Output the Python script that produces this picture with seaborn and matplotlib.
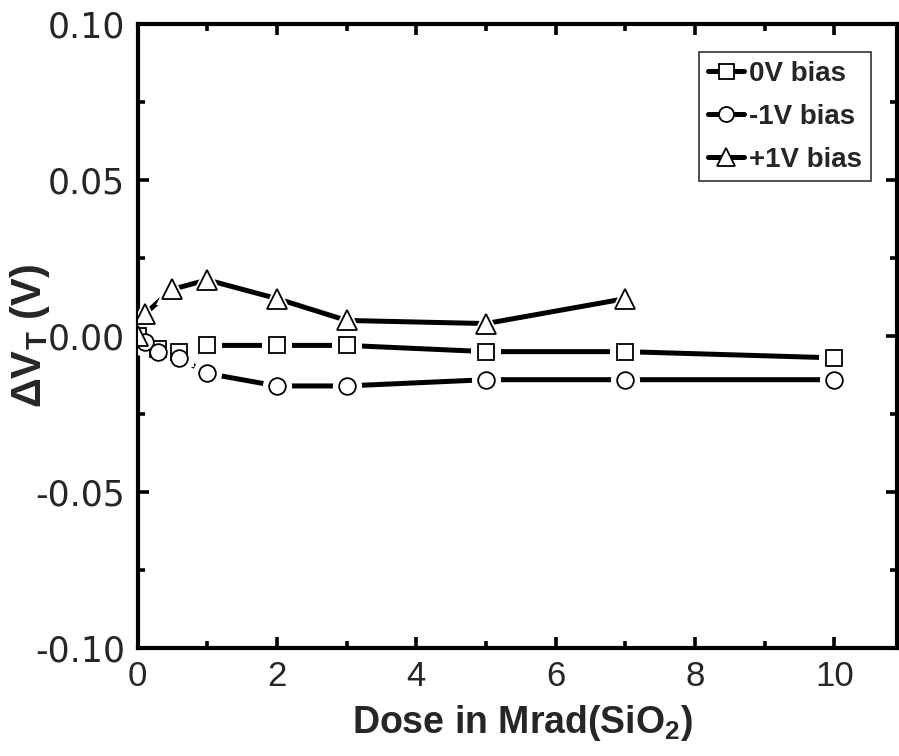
import matplotlib
matplotlib.use("Agg")
import matplotlib.pyplot as plt
from matplotlib.ticker import MultipleLocator, FormatStrFormatter
import seaborn as sns
import pandas as pd

# Threshold-voltage shift vs. total ionizing dose for three gate bias conditions
dose_0v = [0, 0.3, 0.6, 1, 2, 3, 5, 7, 10]
dvt_0v = [0.000, -0.004, -0.005, -0.003, -0.003, -0.003, -0.005, -0.005, -0.007]

dose_m1v = [0.1, 0.3, 0.6, 1, 2, 3, 5, 7, 10]
dvt_m1v = [-0.002, -0.005, -0.007, -0.012, -0.016, -0.016, -0.014, -0.014, -0.014]

dose_p1v = [0, 0.1, 0.5, 1, 2, 3, 5, 7]
dvt_p1v = [0.000, 0.007, 0.015, 0.018, 0.012, 0.005, 0.004, 0.012]

labels = ["0V bias", "-1V bias", "+1V bias"]
x_ticks = [0, 2, 4, 6, 8, 10]
y_ticks = [-0.10, -0.05, 0.00, 0.05, 0.10]

sns.set_theme(style="white")
plt.rcParams["font.family"] = ["Liberation Sans", "DejaVu Sans"]
plt.rcParams["axes.unicode_minus"] = False
plt.rcParams["mathtext.fontset"] = "custom"
plt.rcParams["mathtext.rm"] = "Liberation Sans"
plt.rcParams["mathtext.bf"] = "Liberation Sans:bold"

fig = plt.figure(figsize=(8.99, 7.56), dpi=100)
ax = fig.add_axes([0.153, 0.143, 0.845, 0.825])

series = [
    (dose_0v, dvt_0v, "s", 12.0),
    (dose_m1v, dvt_m1v, "o", 12.0),
    (dose_p1v, dvt_p1v, "^", 14.5),
]

handles = []
for (xs, ys, mk, ms), lab in zip(series, labels):
    df = pd.DataFrame({"dose": xs, "dvt": ys})
    sns.lineplot(data=df, x="dose", y="dvt", ax=ax, color="black",
                 linewidth=3.6, sort=False, zorder=2, legend=False)
    # white halo so the connecting line stops short of each symbol
    ax.plot(df["dose"], df["dvt"], linestyle="none", marker=mk,
            markersize=ms + 9, markerfacecolor="white",
            markeredgecolor="white", markeredgewidth=0, zorder=3)
    ax.plot(df["dose"], df["dvt"], linestyle="none", marker=mk,
            markersize=ms, markerfacecolor="white",
            markeredgecolor="black", markeredgewidth=1.3, zorder=4)
    h, = ax.plot([], [], color="black", linewidth=3.6, marker=mk,
                 markersize=ms * 0.9, markerfacecolor="white",
                 markeredgecolor="black", markeredgewidth=1.3, label=lab)
    handles.append(h)

ax.set_xlim(0, 10.9)
ax.set_ylim(-0.10, 0.10)
ax.set_xticks(x_ticks)
ax.set_yticks(y_ticks)
ax.xaxis.set_minor_locator(MultipleLocator(1))
ax.yaxis.set_minor_locator(MultipleLocator(0.025))
ax.yaxis.set_major_formatter(FormatStrFormatter("%.2f"))

for sp in ax.spines.values():
    sp.set_visible(True)
    sp.set_color("black")
    sp.set_linewidth(3.0)

ax.tick_params(which="both", direction="in", top=True, right=True,
               bottom=True, left=True, color="black")
ax.tick_params(which="major", length=8, width=2.6)
ax.tick_params(which="minor", length=5, width=2.6)
ax.tick_params(axis="x", which="major", labelsize=25, pad=9)
ax.tick_params(axis="y", which="major", labelsize=25, pad=9)
for t in ax.get_yticklabels():
    t.set_fontfamily(["DejaVu Sans"])

ax.set_xlabel(r"Dose in Mrad(SiO$_\mathbf{2}$)", fontsize=27,
              fontweight="bold")
ax.xaxis.set_label_coords(0.507, -0.088)
ax.set_ylabel(r"$\mathbf{\Delta V_T}$ (V)", fontsize=30,
              fontweight="bold")
ax.yaxis.set_label_coords(-0.112, 0.5)

leg = ax.legend(handles=handles, loc="upper right",
                bbox_to_anchor=(0.965, 0.955), frameon=True, fancybox=False,
                prop={"weight": "bold", "size": 20}, handlelength=1.3,
                handletextpad=0.2, borderpad=0.3, labelspacing=0.62,
                borderaxespad=0)
leg.get_frame().set_edgecolor("black")
leg.get_frame().set_linewidth(1.2)

fig.savefig("out.png", dpi=100, facecolor="white")
